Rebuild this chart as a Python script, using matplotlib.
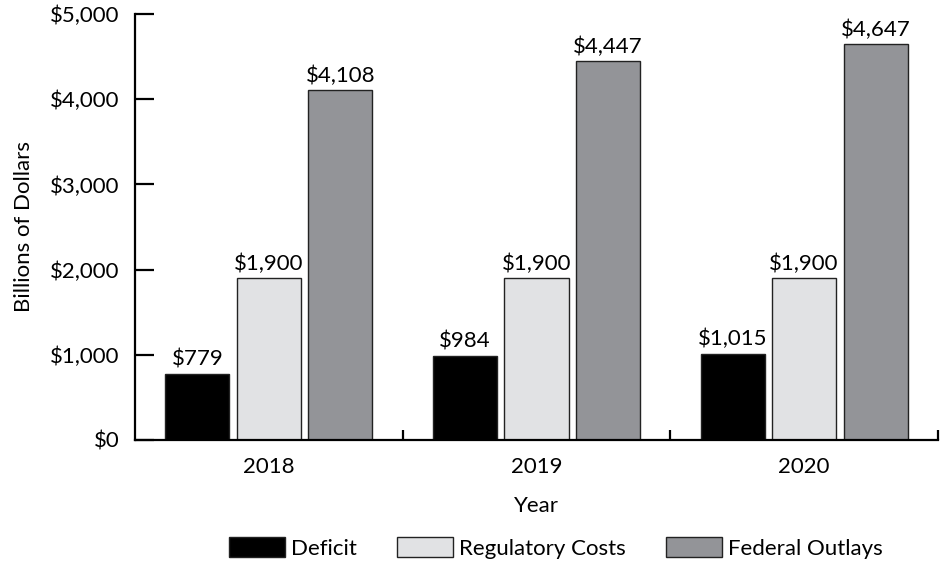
import numpy as np
import matplotlib
matplotlib.use("Agg")
import matplotlib.pyplot as plt
from matplotlib.ticker import FuncFormatter, FixedLocator

years = ["2018", "2019", "2020"]
deficit = [779, 984, 1015]
regulatory = [1900, 1900, 1900]
outlays = [4108, 4447, 4647]
series_names = ["Deficit", "Regulatory Costs", "Federal Outlays"]
colors = ["#000000", "#e1e2e4", "#939498"]

plt.rcParams["font.family"] = ["Lato", "DejaVu Sans"]
FS = 16

fig = plt.figure(figsize=(9.43, 5.65), dpi=100)
ax = fig.add_axes([135/943, 125/565, 803/943, 426/565])

x = np.arange(len(years))
w, step = 0.24, 0.267
for i, (vals, name, col) in enumerate(zip([deficit, regulatory, outlays], series_names, colors)):
    bars = ax.bar(x + (i - 1)*step, vals, w, color=col, edgecolor="#222222", linewidth=1.0, label=name)
    ax.bar_label(bars, labels=[f"${v:,}" for v in vals], padding=3, fontsize=FS)

ax.set_xlim(-0.5, 2.5)
ax.set_ylim(0, 5000)
ax.set_yticks(np.arange(0, 5001, 1000))
ax.yaxis.set_major_formatter(FuncFormatter(lambda v, p: f"${int(v):,}"))
ax.tick_params(axis="y", direction="in", length=14, width=1.6, labelsize=FS, pad=11)

ax.set_xticks(x)
ax.set_xticklabels(years)
ax.tick_params(axis="x", which="major", length=0, labelsize=FS, pad=12)
ax.xaxis.set_minor_locator(FixedLocator([0.5, 1.5, 2.5]))
ax.tick_params(axis="x", which="minor", direction="in", length=7, width=1.6)

for s in ["top", "right"]:
    ax.spines[s].set_visible(False)
ax.spines["left"].set_linewidth(1.6)
ax.spines["bottom"].set_linewidth(1.6)

ax.set_ylabel("Billions of Dollars", fontsize=FS, labelpad=12)
ax.set_xlabel("Year", fontsize=FS, labelpad=14)

fig.legend(loc="center", bbox_to_anchor=(556/943, 1 - 548/565), ncol=3, frameon=False,
           fontsize=FS, handlelength=2.5, handleheight=0.95, columnspacing=1.8, handletextpad=0.3)

fig.savefig("out.png", dpi=100)
